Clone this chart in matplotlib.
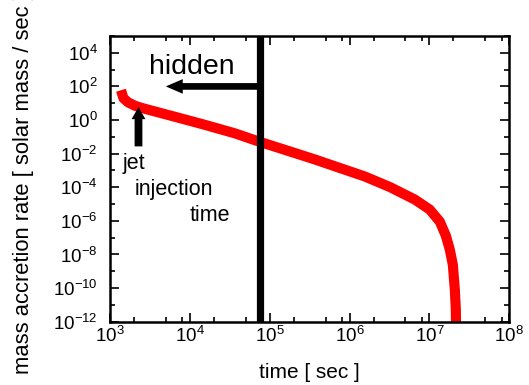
import math
import matplotlib
matplotlib.use("Agg")
import matplotlib.pyplot as plt
from matplotlib.patches import FancyArrowPatch
from matplotlib.ticker import FixedLocator, FuncFormatter, NullFormatter

plt.rcParams['font.family'] = ['Liberation Sans', 'DejaVu Sans']
plt.rcParams['mathtext.fontset'] = 'custom'
plt.rcParams['mathtext.rm'] = 'Liberation Sans'

# accretion curve
time_sec = [1373, 1475, 1680, 2055, 2588, 4225, 6894, 1.545e4, 3.669e4, 7.534e4,
            1.789e5, 3.679e5, 7.56e5, 1.554e6, 3.195e6, 6.57e6, 1.01e7, 1.349e7,
            1.605e7, 1.80e7, 1.963e7, 2.08e7, 2.14e7, 2.159e7]
mdot = [59.3, 19.8, 11.4, 7.05, 5.0, 2.69, 1.45, 0.516, 0.161, 0.050,
        0.0135, 4.5e-3, 1.40e-3, 4.36e-4, 1.03e-4, 1.85e-5, 4.67e-6, 8.95e-7,
        1.31e-7, 1.91e-8, 2.43e-9, 7.8e-11, 5.0e-12, 1.6e-13]

hidden_time = 7.6e4          # vertical line
hidden_arrow_tip = 5000      # left end of the "hidden" arrow
hidden_arrow_y = 100
jet_time = 2275              # jet injection arrow
jet_arrow_y = [0.027, 5.8]

xlim = [1e3, 1e8]
ylim = [1e-12, 1e5]
xmajor = [1e3, 1e4, 1e5, 1e6, 1e7, 1e8]
xminor = [m * 10**e for e in range(3, 8) for m in (2, 5, 8)]
ymajor = [10.0**e for e in range(-12, 5, 2)]
yminor = [10.0**e for e in range(-11, 6, 2)]

fig = plt.figure(figsize=(5.29, 3.85), dpi=100)
ax = fig.add_axes([0.2079, 0.1644, 0.7549, 0.7421])

ax.plot(time_sec, mdot, color='red', lw=7.3, solid_capstyle='butt',
        solid_joinstyle='round', zorder=2)
ax.axvline(hidden_time, color='black', lw=5.2, zorder=3)

arr = FancyArrowPatch((hidden_time, hidden_arrow_y), (hidden_arrow_tip, hidden_arrow_y),
                      arrowstyle='simple,head_length=12.2,head_width=10.5,tail_width=4.8',
                      mutation_scale=1, color='black', lw=0, shrinkA=0, shrinkB=0, zorder=4)
ax.add_patch(arr)
arr2 = FancyArrowPatch((jet_time, jet_arrow_y[0]), (jet_time, jet_arrow_y[1]),
                       arrowstyle='simple,head_length=8.6,head_width=10,tail_width=5.6',
                       mutation_scale=1, color='black', lw=0, shrinkA=0, shrinkB=0, zorder=4)
ax.add_patch(arr2)

ax.text(1.06e4, 537, 'hidden', fontsize=20.5, ha='center', va='baseline')
ax.text(1455, 1.3e-3, 'jet', fontsize=15.5, ha='left', va='baseline')
ax.text(2014, 3.6e-5, 'injection', fontsize=15.5, ha='left', va='baseline')
ax.text(1.0e4, 1.0e-6, 'time', fontsize=15.5, ha='left', va='baseline')

ax.set_xscale('log')
ax.set_yscale('log')
ax.set_xlim(xlim)
ax.set_ylim(ylim)
ax.xaxis.set_major_locator(FixedLocator(xmajor))
ax.xaxis.set_minor_locator(FixedLocator(xminor))
ax.yaxis.set_major_locator(FixedLocator(ymajor))
ax.yaxis.set_minor_locator(FixedLocator(yminor))
fmt = FuncFormatter(lambda v, p: r'$\mathregular{10^{%d}}$' % round(math.log10(v)))
ax.xaxis.set_major_formatter(fmt)
ax.yaxis.set_major_formatter(fmt)
ax.xaxis.set_minor_formatter(NullFormatter())
ax.yaxis.set_minor_formatter(NullFormatter())

ax.tick_params(which='both', direction='in', top=True, right=True, width=1.2, labelsize=13.5)
ax.tick_params(which='major', length=6.5)
ax.tick_params(which='minor', length=3.6)
ax.tick_params(axis='y', pad=9)
ax.tick_params(axis='x', pad=3)
for s in ax.spines.values():
    s.set_linewidth(1.8)

ax.set_xlabel('time [ sec ]', fontsize=15)
ax.set_ylabel('mass accretion rate [ solar mass / sec ]', fontsize=15.8)
ax.xaxis.set_label_coords(0.5, -0.145)
ax.yaxis.set_label_coords(-0.19, 0.485)

fig.savefig('out.png', dpi=100)
